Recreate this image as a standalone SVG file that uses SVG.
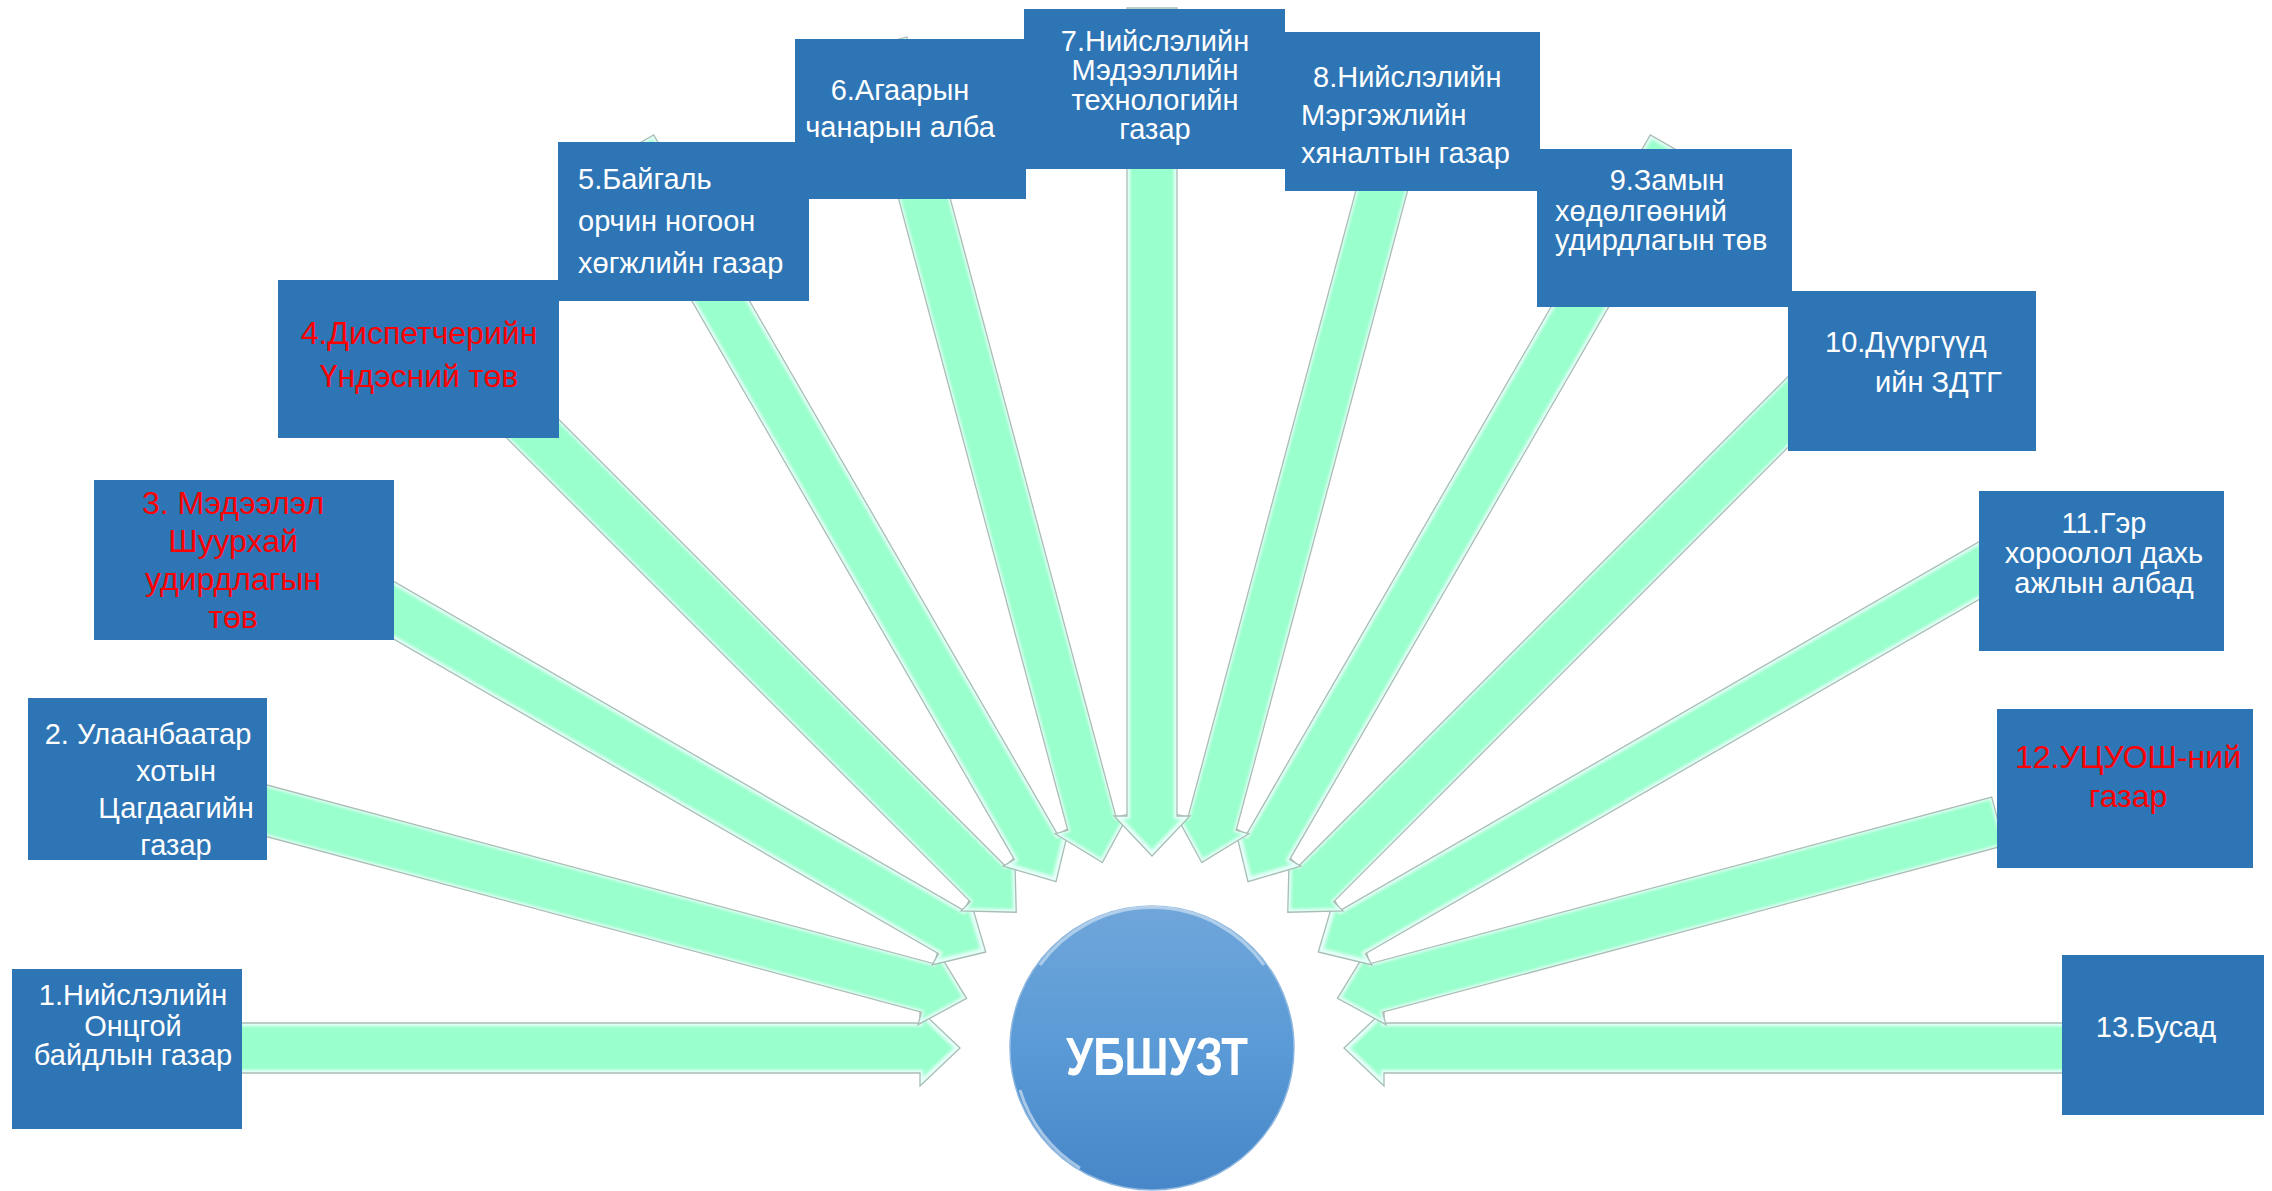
<svg xmlns="http://www.w3.org/2000/svg" xmlns:xlink="http://www.w3.org/1999/xlink" width="2272" height="1191" viewBox="0 0 2272 1191">
<defs>
<style>
.box{fill:#2E75B6}
.t{font-family:"Liberation Sans",Arial,sans-serif;font-size:29px;fill:#FFFFFF}
.r{fill:#FF0000;font-size:32px}
.m{text-anchor:middle}
.af{fill:#99FFCC;filter:url(#bev)}
.ao{fill:none;stroke:#A9BDB5;stroke-width:1.3}
</style>
<filter id="bev" x="-5%" y="-20%" width="110%" height="140%">
<feMorphology in="SourceAlpha" operator="erode" radius="2.5" result="e"/>
<feGaussianBlur in="e" stdDeviation="1.6" result="eb"/>
<feComposite in="SourceAlpha" in2="eb" operator="out" result="rim"/>
<feFlood flood-color="#E6FFFA" result="c"/>
<feComposite in="c" in2="rim" operator="in" result="lr"/>
<feMerge><feMergeNode in="SourceGraphic"/><feMergeNode in="lr"/></feMerge>
</filter>
<path id="arr" d="M192,0 L232,-38 L232,-25 L1040,-25 L1040,25 L232,25 L232,38 Z"/>
<path id="arrS" d="M192,0 L232,-38 L232,-25 L876,-25 L876,25 L232,25 L232,38 Z"/>
<linearGradient id="cg" x1="0" y1="0" x2="0" y2="1">
<stop offset="0" stop-color="#6FA6DA"/>
<stop offset="0.5" stop-color="#5A9AD6"/>
<stop offset="1" stop-color="#4786C8"/>
</linearGradient>
</defs>
<rect width="2272" height="1191" fill="#FFFFFF"/>

<g id="connectors">
<g transform="translate(1152 1048) rotate(-180)"><use xlink:href="#arr" class="af"/><use xlink:href="#arr" class="ao"/></g>
<g transform="translate(1152 1048) rotate(-165)"><use xlink:href="#arr" class="af"/><use xlink:href="#arr" class="ao"/></g>
<g transform="translate(1152 1048) rotate(-150)"><use xlink:href="#arr" class="af"/><use xlink:href="#arr" class="ao"/></g>
<g transform="translate(1152 1048) rotate(-135)"><use xlink:href="#arr" class="af"/><use xlink:href="#arr" class="ao"/></g>
<g transform="translate(1152 1048) rotate(-120)"><use xlink:href="#arr" class="af"/><use xlink:href="#arr" class="ao"/></g>
<g transform="translate(1152 1048) rotate(-105)"><use xlink:href="#arr" class="af"/><use xlink:href="#arr" class="ao"/></g>
<g transform="translate(1152 1048) rotate(0)"><use xlink:href="#arr" class="af"/><use xlink:href="#arr" class="ao"/></g>
<g transform="translate(1152 1048) rotate(-15)"><use xlink:href="#arrS" class="af"/><use xlink:href="#arrS" class="ao"/></g>
<g transform="translate(1152 1048) rotate(-30)"><use xlink:href="#arr" class="af"/><use xlink:href="#arr" class="ao"/></g>
<g transform="translate(1152 1048) rotate(-45)"><use xlink:href="#arr" class="af"/><use xlink:href="#arr" class="ao"/></g>
<g transform="translate(1152 1048) rotate(-60)"><use xlink:href="#arr" class="af"/><use xlink:href="#arr" class="ao"/></g>
<g transform="translate(1152 1048) rotate(-75)"><use xlink:href="#arr" class="af"/><use xlink:href="#arr" class="ao"/></g>
<g transform="translate(1152 1048) rotate(-90)"><use xlink:href="#arr" class="af"/><use xlink:href="#arr" class="ao"/></g>
</g>

<g id="n1"><rect class="box" x="12" y="969" width="230" height="160"/>
<text class="t m" x="133" y="1005">1.Нийслэлийн</text>
<text class="t m" x="133" y="1036">Онцгой</text>
<text class="t m" x="133" y="1065">байдлын газар</text></g>

<g id="n2"><rect class="box" x="28" y="698" width="239" height="162"/>
<text class="t m" x="148" y="744">2. Улаанбаатар</text>
<text class="t m" x="176" y="781">хотын</text>
<text class="t m" x="176" y="818">Цагдаагийн</text>
<text class="t m" x="176" y="855">газар</text></g>

<g id="n3"><rect class="box" x="94" y="480" width="300" height="160"/>
<text class="t r m" x="233" y="514">3. Мэдээлэл</text>
<text class="t r m" x="233" y="552">Шуурхай</text>
<text class="t r m" x="233" y="590">удирдлагын</text>
<text class="t r m" x="233" y="628">төв</text></g>

<g id="n4"><rect class="box" x="278" y="280" width="281" height="158"/>
<text class="t r m" x="419" y="344">4.Диспетчерийн</text>
<text class="t r m" x="419" y="387">Үндэсний төв</text></g>

<g id="n5"><rect class="box" x="558" y="142" width="251" height="159"/>
<text class="t" x="578" y="189">5.Байгаль</text>
<text class="t" x="578" y="231">орчин ногоон</text>
<text class="t" x="578" y="273">хөгжлийн газар</text></g>

<g id="n6"><rect class="box" x="795" y="39" width="231" height="160"/>
<text class="t m" x="900" y="100">6.Агаарын</text>
<text class="t m" x="900" y="137">чанарын алба</text></g>

<g id="n7"><rect class="box" x="1024" y="9" width="261" height="160"/>
<text class="t m" x="1155" y="51">7.Нийслэлийн</text>
<text class="t m" x="1155" y="80">Мэдээллийн</text>
<text class="t m" x="1155" y="110">технологийн</text>
<text class="t m" x="1155" y="139">газар</text></g>

<g id="n8"><rect class="box" x="1285" y="32" width="255" height="159"/>
<text class="t" x="1313" y="87">8.Нийслэлийн</text>
<text class="t" x="1301" y="125">Мэргэжлийн</text>
<text class="t" x="1301" y="163">хяналтын газар</text></g>

<g id="n9"><rect class="box" x="1537" y="149" width="255" height="158"/>
<text class="t m" x="1667" y="190">9.Замын</text>
<text class="t" x="1555" y="221">хөдөлгөөний</text>
<text class="t" x="1555" y="250">удирдлагын төв</text></g>

<g id="n10"><rect class="box" x="1788" y="291" width="248" height="160"/>
<text class="t" x="1825" y="352">10.Дүүргүүд</text>
<text class="t" x="1875" y="392">ийн ЗДТГ</text></g>

<g id="n11"><rect class="box" x="1979" y="491" width="245" height="160"/>
<text class="t m" x="2104" y="533">11.Гэр</text>
<text class="t m" x="2104" y="563">хороолол дахь</text>
<text class="t m" x="2104" y="593">ажлын албад</text></g>

<g id="n12"><rect class="box" x="1997" y="709" width="256" height="159"/>
<text class="t r m" x="2128" y="768">12.УЦУОШ-ний</text>
<text class="t r m" x="2128" y="807">газар</text></g>

<g id="n13"><rect class="box" x="2062" y="955" width="202" height="160"/>
<text class="t m" x="2156" y="1037">13.Бусад</text></g>

<g id="center">
<circle cx="1152" cy="1048" r="142" fill="url(#cg)" stroke="#8FB8E0" stroke-width="1.5"/>
<path d="M1040,965 A138,138 0 0 1 1264,965" fill="none" stroke="#FFFFFF" stroke-opacity="0.45" stroke-width="3"/>
<path d="M1020,1090 A138,138 0 0 0 1080,1168" fill="none" stroke="#FFFFFF" stroke-opacity="0.5" stroke-width="3"/>
<text x="1157" y="1075" text-anchor="middle" textLength="182" lengthAdjust="spacingAndGlyphs" style="font-family:'Liberation Sans',Arial,sans-serif;font-size:54px;font-weight:bold;fill:#FFFFFF">УБШУЗТ</text>
</g>
</svg>
